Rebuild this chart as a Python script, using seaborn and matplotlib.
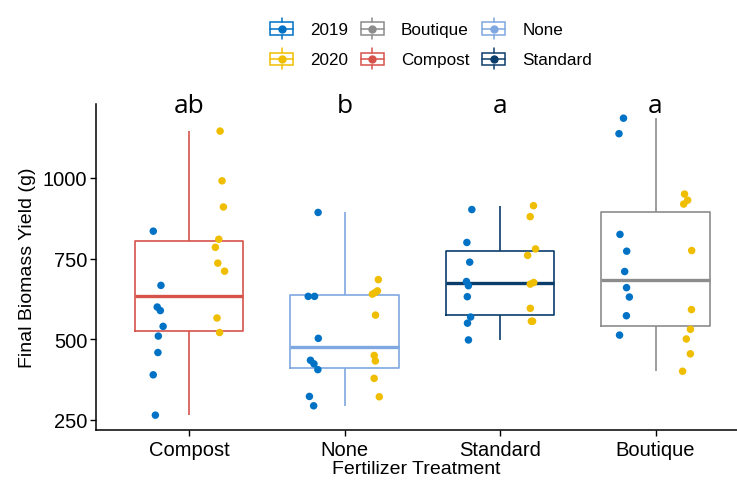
import matplotlib
matplotlib.use("Agg")
import matplotlib.pyplot as plt
import numpy as np
import pandas as pd
import seaborn as sns
from matplotlib.legend_handler import HandlerBase
from matplotlib.lines import Line2D
from matplotlib.patches import Rectangle

# ---- data ----
treatments = ["Compost", "None", "Standard", "Boutique"]
years = ["2019", "2020"]
letters = ["ab", "b", "a", "a"]

compost_2019 = [835, 667, 600, 589, 540, 510, 459, 390, 265]
compost_2020 = [1145, 991, 910, 810, 785, 736, 711, 566, 521]
none_2019 = [893, 633, 633, 503, 435, 424, 406, 323, 294]
none_2020 = [685, 650, 645, 640, 575, 450, 433, 379, 322]
standard_2019 = [902, 800, 739, 679, 666, 632, 569, 550, 498]
standard_2020 = [914, 880, 780, 760, 676, 671, 596, 556, 556]
boutique_2019 = [1185, 1137, 825, 773, 710, 660, 631, 573, 513]
boutique_2020 = [950, 931, 919, 775, 592, 531, 501, 455, 401]

year_colors = {"2019": "#0072C6", "2020": "#F0BE00"}
treat_colors = {"Boutique": "#8C8C8C", "Compost": "#D6534A",
                "None": "#7FA8E0", "Standard": "#0B3D6B"}

series = {
    ("Compost", "2019"): compost_2019, ("Compost", "2020"): compost_2020,
    ("None", "2019"): none_2019, ("None", "2020"): none_2020,
    ("Standard", "2019"): standard_2019, ("Standard", "2020"): standard_2020,
    ("Boutique", "2019"): boutique_2019, ("Boutique", "2020"): boutique_2020,
}
rows = [(t, y, v) for (t, y), vals in series.items() for v in vals]
df = pd.DataFrame(rows, columns=["Treatment", "Year", "Yield"])


class BoxKeyHandler(HandlerBase):
    """Legend key that looks like a tiny boxplot with a dot in the middle."""

    def create_artists(self, legend, orig_handle, xdescent, ydescent,
                       width, height, fontsize, trans):
        c = orig_handle.get_color()
        x0, y0 = -xdescent, -ydescent
        cx, cy = x0 + width / 2, y0 + height / 2
        bh = height * 0.6
        rect = Rectangle((x0, cy - bh / 2), width, bh, fill=False, ec=c,
                         lw=1.1, transform=trans)
        top = Line2D([cx, cx], [cy + bh / 2, y0 + height], color=c, lw=1.1, transform=trans)
        bot = Line2D([cx, cx], [y0, cy - bh / 2], color=c, lw=1.1, transform=trans)
        med = Line2D([x0, x0 + width], [cy, cy], color=c, lw=1.1, transform=trans)
        dot = Line2D([cx], [cy], marker="o", ms=5, color=c, ls="none", transform=trans)
        return [rect, top, bot, med, dot]


sns.set_style("ticks")
plt.rcParams["font.family"] = ["Liberation Sans", "DejaVu Sans"]
plt.rcParams["text.color"] = "black"
plt.rcParams["axes.labelcolor"] = "black"

fig = plt.figure(figsize=(7.37, 4.81), dpi=100)
ax = fig.add_axes([95.7 / 737, 50 / 481, (737 - 95.7) / 737, 326 / 481])

sns.boxplot(data=df, x="Treatment", y="Yield", hue="Treatment", order=treatments,
            palette=treat_colors, fill=False, width=0.7, showcaps=False,
            showfliers=False, linewidth=1.2, medianprops={"linewidth": 2.4},
            legend=False, ax=ax)

np.random.seed(7)
sns.stripplot(data=df, x="Treatment", y="Yield", hue="Year", order=treatments,
              hue_order=years, palette=year_colors, dodge=True, jitter=0.07,
              size=5.4, linewidth=0, legend=False, ax=ax)

for i, lab in enumerate(letters):
    ax.text(i, 1205, lab, ha="center", va="baseline", fontsize=19, color="black",
            family=["Open Sans", "DejaVu Sans"], clip_on=False)

ax.set_xlim(-0.6, 3.524)
ax.set_ylim(219, 1229)
ax.set_yticks([250, 500, 750, 1000])
ax.set_xlabel("Fertilizer Treatment", fontsize=14, labelpad=0.5)
ax.set_ylabel("Final Biomass Yield (g)", fontsize=14, labelpad=5)
ax.tick_params(axis="both", labelsize=14.5, length=4, width=1, color="black",
               labelcolor="black")
ax.tick_params(axis="x", pad=3.5)
ax.tick_params(axis="y", pad=2)
for s in ["left", "bottom"]:
    ax.spines[s].set_linewidth(1.1)
    ax.spines[s].set_color("black")
sns.despine(ax=ax)

labels = ["2019", "2020", "Boutique", "Compost", "None", "Standard"]
colors = [year_colors["2019"], year_colors["2020"], treat_colors["Boutique"],
          treat_colors["Compost"], treat_colors["None"], treat_colors["Standard"]]
handles = [Line2D([], [], color=c) for c in colors]
fig.legend(handles, labels, ncol=3, loc="upper center", bbox_to_anchor=(0.585, 0.985),
           frameon=False, fontsize=12.3, handler_map={Line2D: BoxKeyHandler()},
           handlelength=1.35, handleheight=1.5, handletextpad=1.0,
           columnspacing=0.75, labelspacing=0.55, borderpad=0.2)

fig.savefig("out.png", dpi=100)
